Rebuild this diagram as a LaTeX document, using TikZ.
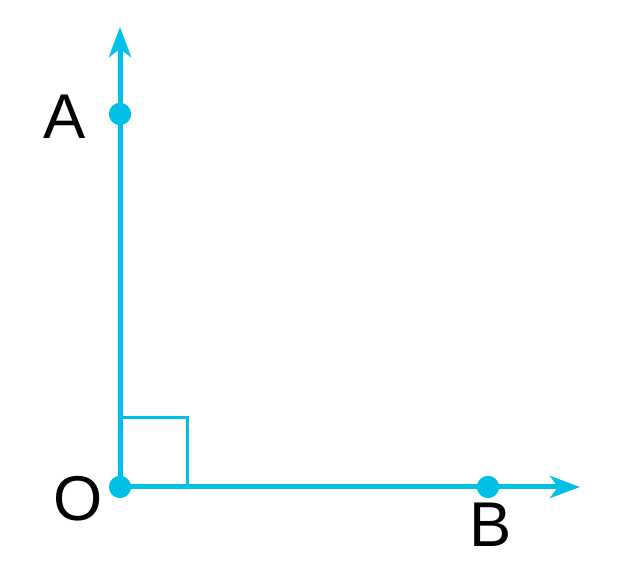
\documentclass[tikz,border=0pt]{standalone}
\usepackage{fontspec}
\setmainfont{Liberation Sans}
\usetikzlibrary{positioning, arrows.meta}
\definecolor{raycyan}{RGB}{0,192,232}

\begin{document}
\begin{tikzpicture}[
  ray/.style={raycyan,line width=0.05cm,-{Stealth[length=0.30cm,width=0.22cm,inset=0.08cm]}},
  dot/.style={circle,fill=raycyan,inner sep=0pt,minimum size=0.22cm},
  lbl/.style={font=\fontsize{18}{20}\selectfont,inner sep=0pt}
]
  \useasboundingbox (0,0) rectangle (6.24,5.70);
  \coordinate (ytip) at (1.20,5.43);
  \coordinate (xtip) at (5.80,0.83);
  \coordinate (sq1) at (1.20,1.52);
  \coordinate (sq2) at (1.87,1.52);
  \coordinate (sq3) at (1.87,0.83);
  \draw[raycyan,line width=0.03cm] (sq1) -- (sq2) -- (sq3);
  \node[dot] (o) at (1.20,0.83) {};
  \node[dot] (a) at (1.20,4.56) {};
  \node[dot] (b) at (4.88,0.83) {};
  \draw[ray] (o.center) -- (ytip);
  \draw[ray] (o.center) -- (xtip);
  \node[dot] at (o) {};
  \node[dot] at (a) {};
  \node[dot] at (b) {};
  \node[lbl] (la) at (0.65,4.53) {A};
  \node[lbl] (lo) at (0.78,0.71) {O};
  \node[lbl] (lb) at (4.91,0.45) {B};
\end{tikzpicture}
\end{document}
